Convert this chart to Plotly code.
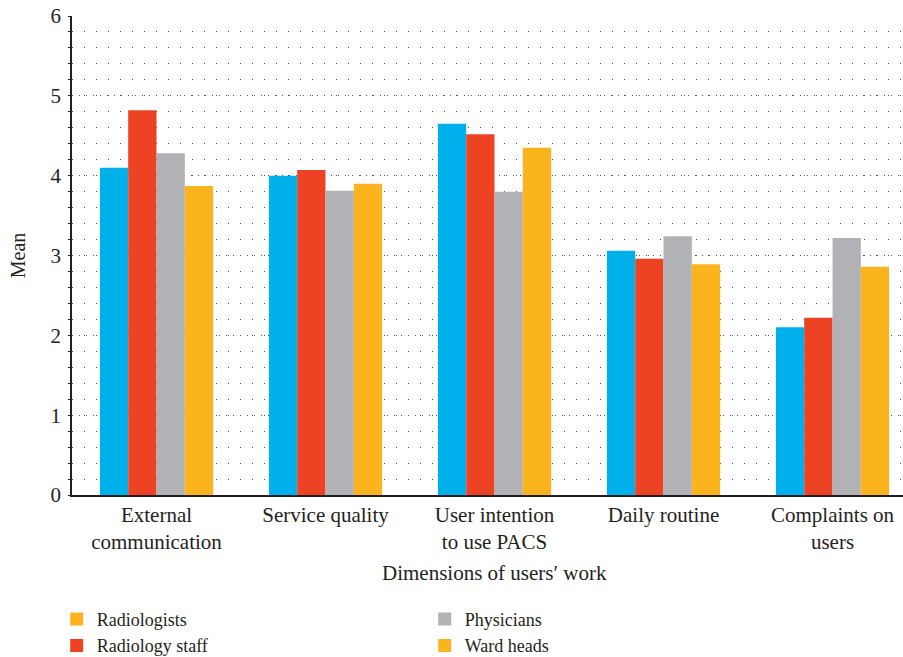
import plotly.graph_objects as go

categories = ["External<br>communication", "Service quality", "User intention<br>to use PACS",
              "Daily routine", "Complaints on<br>users"]
radiologists = [4.10, 4.00, 4.65, 3.06, 2.10]
radiology_staff = [4.82, 4.07, 4.52, 2.96, 2.22]
physicians = [4.28, 3.81, 3.80, 3.24, 3.22]
ward_heads = [3.87, 3.90, 4.35, 2.89, 2.86]

series = [
    ("Radiologists", radiologists, "#00B0EB"),
    ("Radiology staff", radiology_staff, "#EE4224"),
    ("Physicians", physicians, "#B1B2B5"),
    ("Ward heads", ward_heads, "#FBB41E"),
]
# legend swatch colours as printed in the reference
legend_entries = [
    ("Radiologists", "#FBB41E"),
    ("Physicians", "#B1B2B5"),
    ("Radiology staff", "#EE4224"),
    ("Ward heads", "#FBB41E"),
]

FONT = "Liberation Serif"
TXT = "#231F20"
fig = go.Figure()
for name, vals, col in series:
    fig.add_trace(go.Bar(x=list(range(len(categories))), y=vals, name=name,
                         marker=dict(color=col, line=dict(width=0)), showlegend=False))
for name, col in legend_entries:
    fig.add_trace(go.Scatter(x=[None], y=[None], name=name, mode="markers",
                             marker=dict(color=col, symbol="square", size=13, line=dict(width=0)),
                             showlegend=True))

fig.update_layout(
    width=903, height=657,
    margin=dict(l=72, r=0, t=16, b=162, autoexpand=False),
    paper_bgcolor="white", plot_bgcolor="white",
    barmode="group", bargap=0.33, bargroupgap=0,
    font=dict(family=FONT, size=21, color=TXT),
    xaxis=dict(
        range=[-0.5, 4.417], tickmode="array", tickvals=list(range(len(categories))),
        ticktext=categories, showgrid=False, zeroline=False, automargin=False,
        showline=True, linecolor=TXT, linewidth=1.5, ticks="",
        tickfont=dict(size=21),
    ),
    yaxis=dict(
        range=[0, 6], tickvals=[0, 1, 2, 3, 4, 5, 6], showgrid=True,
        gridcolor="#555555", griddash="1px,6px", gridwidth=1, automargin=False,
        zeroline=False, showline=True, linecolor=TXT, linewidth=1.5,
        ticks="", tickfont=dict(size=21), ticklabelstandoff=5,
        minor=dict(dtick=0.2, showgrid=True, gridcolor="#555555", griddash="1px,11px",
                   gridwidth=1, ticks="outside", ticklen=2, tickcolor=TXT),
        title=dict(text="Mean", font=dict(size=20), standoff=20),
    ),
    legend=dict(orientation="h", x=-0.0184, xanchor="left", y=-0.221, yanchor="top",
                entrywidth=323, entrywidthmode="pixels", font=dict(size=18),
                itemwidth=30, tracegroupgap=0),
    annotations=[dict(text="Dimensions of users′ work", xref="paper", yref="paper",
                      x=0.508, y=-0.163, xanchor="center", yanchor="middle",
                      showarrow=False, font=dict(size=21, color=TXT))],
)

fig.write_html("out.html")
